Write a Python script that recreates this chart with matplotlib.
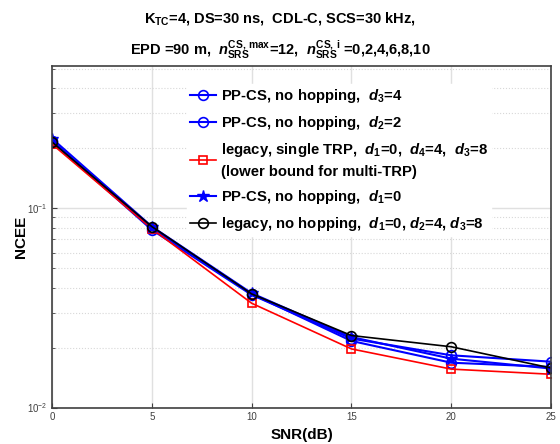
import numpy as np
import matplotlib
matplotlib.use("Agg")
import matplotlib.pyplot as plt

plt.rcParams['font.family'] = ['Liberation Sans', 'DejaVu Sans']
plt.rcParams['mathtext.fontset'] = 'custom'
plt.rcParams['mathtext.rm'] = 'Liberation Sans:bold'
plt.rcParams['mathtext.it'] = 'Liberation Sans:bold:italic'
plt.rcParams['mathtext.bf'] = 'Liberation Sans:bold'

# datos
snr = [0, 5, 10, 15, 20, 25]
ppcs_d3 = [0.217, 0.078, 0.0368, 0.0222, 0.0183, 0.0170]
ppcs_d2 = [0.218, 0.080, 0.0372, 0.0216, 0.0168, 0.0160]
legacy_single = [0.210, 0.079, 0.0334, 0.0197, 0.0156, 0.0147]
ppcs_d1 = [0.224, 0.081, 0.0375, 0.0226, 0.0176, 0.0157]
legacy_nohop = [0.215, 0.081, 0.0372, 0.0230, 0.0202, 0.0158]

labels = [
    r"PP-CS, no hopping,  $d_3$=4",
    r"PP-CS, no hopping,  $d_2$=2",
    "legacy, single TRP,  $d_1$=0,  $d_4$=4,  $d_3$=8\n(lower bound for multi-TRP)",
    r"PP-CS, no hopping,  $d_1$=0",
    r"legacy, no hopping,  $d_1$=0, $d_2$=4, $d_3$=8",
]

fig = plt.figure(figsize=(5.6, 4.44), dpi=100)
ax = fig.add_axes([0.093, 0.082, 0.891, 0.770])

ax.semilogy(snr, ppcs_d3, '-o', color='blue', mfc='none', ms=7, lw=1.5, mew=1.2, label=labels[0])
ax.semilogy(snr, ppcs_d2, '-o', color='blue', mfc='none', ms=7, lw=1.5, mew=1.2, label=labels[1])
ax.semilogy(snr, legacy_single, '-s', color='red', mfc='none', ms=6, lw=1.2, mew=1.2, label=labels[2])
ax.semilogy(snr, ppcs_d1, '-*', color='blue', ms=9, lw=1.5, label=labels[3])
ax.semilogy(snr, legacy_nohop, '-o', color='black', mfc='none', ms=7, lw=1.2, mew=1.2, label=labels[4])

ax.set_xlim(0, 25)
ax.set_ylim(0.01, 0.52)
ax.set_xticks(snr)
ax.grid(True, which='major', color='#e0e0e0', lw=1.0, ls='-')
ax.grid(True, which='minor', axis='y', color='#d8d8d8', lw=0.8, ls=':')
ax.tick_params(which='both', direction='in', labelsize=7, colors='#404040', labelcolor='#404040')
for s in ax.spines.values():
    s.set_color('#404040')
    s.set_linewidth(1.2)

ax.set_xlabel('SNR(dB)', fontsize=11, fontweight='bold', labelpad=4)
ax.set_ylabel('NCEE', fontsize=11, fontweight='bold')
ax.yaxis.set_label_coords(-0.048, 0.5)

fig.text(0.5, 0.958, "K$_{\\mathrm{TC}}$=4, DS=30 ns,  CDL-C, SCS=30 kHz,",
         ha='center', va='center', fontsize=10.5, fontweight='bold')
fig.text(0.5, 0.887,
         "EPD =90 m,  $n_{\\mathrm{SRS}}^{\\mathrm{CS,\\,max}}$=12,  $n_{\\mathrm{SRS}}^{\\mathrm{CS,\\,i}}$ =0,2,4,6,8,10",
         ha='center', va='center', fontsize=10.5, fontweight='bold')

leg = ax.legend(loc='upper left', bbox_to_anchor=(0.255, 0.968),
                prop={'weight': 'bold', 'size': 10.7}, frameon=True, framealpha=1,
                edgecolor='white', fancybox=False, handlelength=1.8, handletextpad=0.3,
                labelspacing=0.6, borderpad=0.2)
leg.get_texts()[2].set_linespacing(1.55)

fig.savefig('out.png', dpi=100)
